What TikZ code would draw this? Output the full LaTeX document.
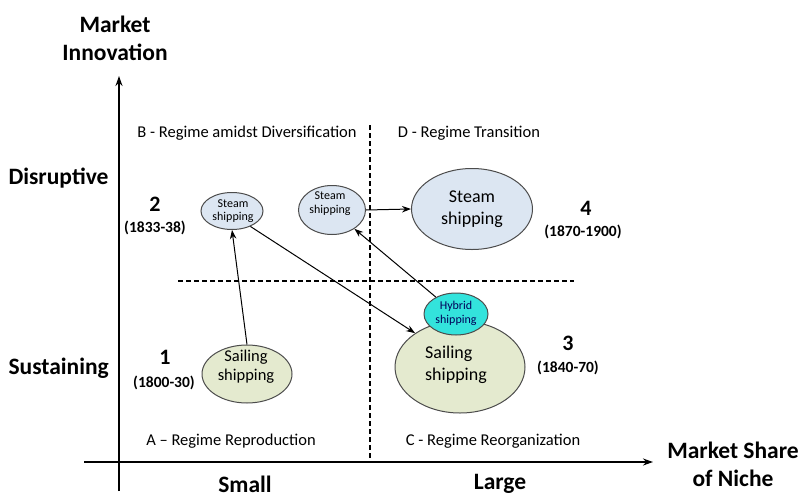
\documentclass[tikz,border=0pt]{standalone}
\usepackage{fontspec}
\setmainfont{Carlito}
\usetikzlibrary{shapes.geometric,arrows.meta}
\begin{document}
\begin{tikzpicture}[x=1pt,y=-1pt,
  axis/.style={line width=1.6pt,-{Stealth[length=10pt,width=7pt]}},
  flow/.style={line width=1pt,-{Stealth[length=9pt,width=6.5pt]}},
  divider/.style={line width=1.5pt,dash pattern=on 5pt off 3pt},
  bubble/.style={ellipse,draw=black!70,line width=1pt,inner sep=0pt,align=center},
  steam/.style={bubble,fill=steamfill},
  sail/.style={bubble,fill=sailfill},
  axislabel/.style={font=\bfseries\fontsize{23.5}{28}\selectfont,align=center},
  quad/.style={font=\fontsize{16.5}{19}\selectfont},
  stage/.style={font=\bfseries\fontsize{22}{24}\selectfont},
  period/.style={font=\bfseries\fontsize{15.5}{18}\selectfont},
  tinytext/.style={font=\fontsize{12}{14}\selectfont,align=center},
  bigtext/.style={font=\fontsize{18}{22}\selectfont}]
\definecolor{steamfill}{HTML}{DCE6F2}
\definecolor{sailfill}{HTML}{E4EACF}
\definecolor{hybridfill}{HTML}{33E3DC}
\useasboundingbox[fill=white] (0,0) rectangle (800,498);

% axes
\coordinate (yb) at (119,491);
\coordinate (yt) at (119,76);
\coordinate (xl) at (84,462);
\coordinate (xr) at (653,462);
\draw[axis] (yb) -- (yt);
\draw[axis] (xl) -- (xr);

% quadrant dividers
\coordinate (vt) at (370,125);
\coordinate (vb) at (370,462);
\coordinate (hl) at (178,281);
\coordinate (hr) at (574,281);
\draw[divider] (vt) -- (vb);
\draw[divider] (hl) -- (hr);

% axis labels
\node[axislabel] (ylab) at (115,38) {Market\\Innovation};
\node[axislabel] (xlab) at (733,464) {Market Share\\of Niche};
\node[axislabel,anchor=west] (dis) at (5,178) {Disruptive};
\node[axislabel,anchor=west] (sus) at (5,368) {Sustaining};
\node[axislabel] (small) at (245,484) {Small};
\node[axislabel] (large) at (500,484) {Large};

% quadrant titles
\node[quad] (qb) at (247,133) {B - Regime amidst Diversification};
\node[quad] (qd) at (469,133) {D - Regime Transition};
\node[quad] (qa) at (231,441) {A – Regime Reproduction};
\node[quad] (qc) at (493,441) {C - Regime Reorganization};

% stage numbers
\node[stage] (n2) at (155,204) {2};
\node[period] (p2) at (155,228) {(1833-38)};
\node[stage] (n1) at (165,357) {1};
\node[period] (p1) at (164,383) {(1800-30)};
\node[stage] (n3) at (568,343) {3};
\node[period] (p3) at (568,368) {(1840-70)};
\node[stage] (n4) at (586,208) {4};
\node[period] (p4) at (583,232) {(1870-1900)};

% bubbles
\node[steam,minimum width=62pt,minimum height=37pt] (st1) at (232,211) {};
\node[tinytext] (st1t) at (233,211) {Steam\\[-1pt]shipping};
\node[steam,minimum width=67pt,minimum height=49pt] (st2) at (332,210) {};
\node[tinytext] (st2t) at (330,204) {Steam\\shipping};
\node[steam,minimum width=121pt,minimum height=81pt] (st3) at (472,209) {};
\node[bigtext,align=center] (st3t) at (472,209) {Steam\\shipping};
\node[sail,minimum width=90pt,minimum height=58pt] (sa1) at (247,374) {};
\node[font=\fontsize{16.5}{19}\selectfont,align=center] (sa1t) at (246,367) {Sailing\\shipping};
\node[sail,minimum width=130pt,minimum height=92pt] (sa3) at (460,367) {};
\node[bigtext,align=left] (sa3t) at (456,365) {Sailing\\shipping};
\node[bubble,fill=hybridfill,minimum width=64pt,minimum height=42pt] (hy) at (456,314) {};
\node[tinytext,text=blue!35!black] (hyt) at (456,313) {Hybrid\\shipping};

% transitions
\draw[flow] (sa1.north) -- (st1.south);
\draw[flow] (st1.-40) -- (sa3.143);
\draw[flow] (hy.140) -- (st2.-40);
\draw[flow] (st2.east) -- (st3.west);
\end{tikzpicture}
\end{document}
